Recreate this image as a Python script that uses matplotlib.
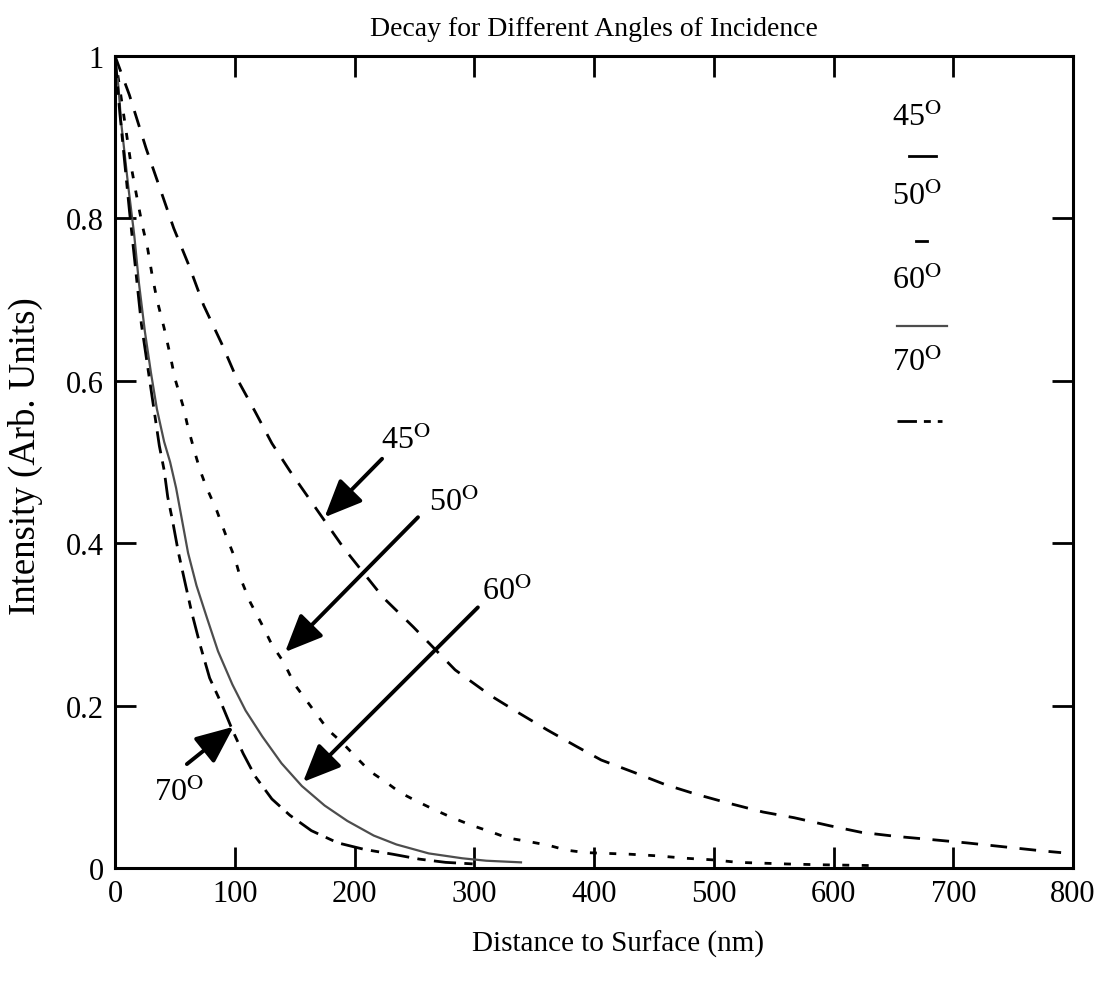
import matplotlib
matplotlib.use("Agg")
import matplotlib.pyplot as plt
from matplotlib.lines import Line2D

plt.rcParams['font.family'] = ['Liberation Serif', 'DejaVu Serif']
plt.rcParams['mathtext.fontset'] = 'stix'

# values (distance in nm, intensity in arb. units)
x45 = [0, 12, 26, 38, 49, 62, 74, 89, 101, 117, 131, 146, 172, 191, 224, 249, 284,
       314, 336, 361, 385, 406, 433, 459, 485, 512, 541, 567, 597, 623, 652, 682,
       711, 743, 775, 790]
y45 = [1.0, 0.952, 0.886, 0.835, 0.788, 0.741, 0.693, 0.646, 0.605, 0.562, 0.523,
       0.489, 0.434, 0.394, 0.333, 0.297, 0.244, 0.212, 0.192, 0.170, 0.150, 0.133,
       0.118, 0.103, 0.091, 0.080, 0.069, 0.062, 0.052, 0.044, 0.039, 0.035, 0.031,
       0.026, 0.021, 0.019]

x50 = [0, 4, 9, 14, 19, 23, 27, 31, 35, 41, 46, 50, 57, 61, 67, 71, 76, 85, 92, 100,
       105, 113, 123, 131, 141, 150, 160, 168, 178, 190, 201, 213, 227, 238, 251,
       265, 280, 297, 313, 328, 344, 362, 377, 393, 430, 453, 477, 500, 520, 561,
       590, 634]
y50 = [1.0, 0.96, 0.91, 0.86, 0.82, 0.79, 0.765, 0.73, 0.70, 0.665, 0.632, 0.603,
       0.568, 0.542, 0.51, 0.49, 0.47, 0.44, 0.412, 0.382, 0.356, 0.327, 0.299,
       0.275, 0.253, 0.226, 0.206, 0.19, 0.17, 0.154, 0.137, 0.119, 0.105, 0.093,
       0.083, 0.073, 0.063, 0.053, 0.045, 0.037, 0.033, 0.028, 0.022, 0.019, 0.017,
       0.015, 0.012, 0.010, 0.007, 0.005, 0.004, 0.003]

x60 = [0, 3, 5, 11, 16, 20, 25, 30, 35, 41, 46, 51, 56, 61, 68, 77, 86, 98, 109, 123,
       139, 156, 175, 194, 216, 235, 262, 290, 310, 339]
y60 = [1.0, 0.96, 0.92, 0.84, 0.78, 0.72, 0.66, 0.61, 0.565, 0.525, 0.50, 0.468,
       0.428, 0.388, 0.348, 0.307, 0.267, 0.226, 0.194, 0.162, 0.129, 0.101, 0.077,
       0.058, 0.040, 0.029, 0.018, 0.012, 0.009, 0.007]

x70 = [0, 4, 8, 12, 17, 22, 27, 32, 37, 41, 44, 48, 53, 59, 64, 71, 79, 89, 98, 107,
       117, 131, 146, 164, 186, 208, 232, 254, 276, 300]
y70 = [1.0, 0.93, 0.87, 0.81, 0.74, 0.67, 0.62, 0.57, 0.52, 0.49, 0.457, 0.428,
       0.388, 0.348, 0.315, 0.275, 0.234, 0.202, 0.17, 0.141, 0.113, 0.085, 0.065,
       0.046, 0.031, 0.023, 0.017, 0.011, 0.007, 0.005]

angles = ['45', '50', '60', '70']
# label centre, arrow tail, arrow tip
label_pos = [(243, 0.528), (283, 0.451), (327, 0.342), (53, 0.094)]
arrow_tail = [(223, 0.504), (253, 0.432), (303, 0.321), (60, 0.128)]
arrow_tip = [(175, 0.432), (142, 0.266), (157, 0.106), (99, 0.174)]

styles = [
    dict(color='black', lw=2.0, dashes=(6, 4.5)),
    dict(color='black', lw=2.0, dashes=(2.5, 4.5)),
    dict(color='0.3', lw=1.6),
    dict(color='black', lw=2.0, dashes=(8, 3, 3, 3)),
]


def deg(a):
    return a + r'$^{\mathrm{O}}$'


fig = plt.figure(figsize=(11.2, 9.95), dpi=100)
ax = fig.add_axes([0.1027, 0.1266, 0.8554, 0.8161])

for xs, ys, st in zip([x45, x50, x60, x70], [y45, y50, y60, y70], styles):
    ax.plot(xs, ys, **st)

for a, lp, tail, tip in zip(angles, label_pos, arrow_tail, arrow_tip):
    ax.text(lp[0], lp[1], deg(a), fontsize=23, ha='center', va='center')
    ax.annotate('', xy=tip, xytext=tail,
                arrowprops=dict(arrowstyle='-|>,head_length=1.15,head_width=0.5',
                                lw=2.8, color='black', mutation_scale=20,
                                shrinkA=0, shrinkB=0))

# legend: label above a short sample of the line
leg_text_y = [0.925, 0.828, 0.724, 0.624]
leg_line_y = [0.877, 0.772, 0.667, 0.550]
leg_line_x = [(0.829, 0.857), (0.836, 0.848), (0.816, 0.868), (0.816, 0.863)]
for a, ty, ly, lx, st in zip(angles, leg_text_y, leg_line_y, leg_line_x, styles):
    ax.text(0.837, ty, deg(a), fontsize=23, ha='center', va='center',
            transform=ax.transAxes)
    kw = dict(st)
    if a == '45' or a == '50':
        kw.pop('dashes')
    elif a == '70':
        kw['dashes'] = (7, 2.5, 2.5, 2.5)
    ax.add_line(Line2D(lx, [ly, ly], transform=ax.transAxes, **kw))

ax.set_xlim(0, 800)
ax.set_ylim(0, 1)
ax.set_xticks(range(0, 801, 100))
ax.set_yticks([0, 0.2, 0.4, 0.6, 0.8, 1])
ax.set_yticklabels(['0', '0.2', '0.4', '0.6', '0.8', '1'])
ax.tick_params(direction='in', length=15, width=2, labelsize=22, top=True, right=True,
               pad=8)
for s in ax.spines.values():
    s.set_linewidth(2.2)

ax.set_title('Decay for Different Angles of Incidence', fontsize=20, pad=15)
ax.set_xlabel('Distance to Surface (nm)', fontsize=21)
ax.xaxis.set_label_coords(0.525, -0.076)
ax.set_ylabel('Intensity (Arb. Units)', fontsize=26.5)
ax.yaxis.set_label_coords(-0.075, 0.509)

fig.savefig('out.png', dpi=100)
